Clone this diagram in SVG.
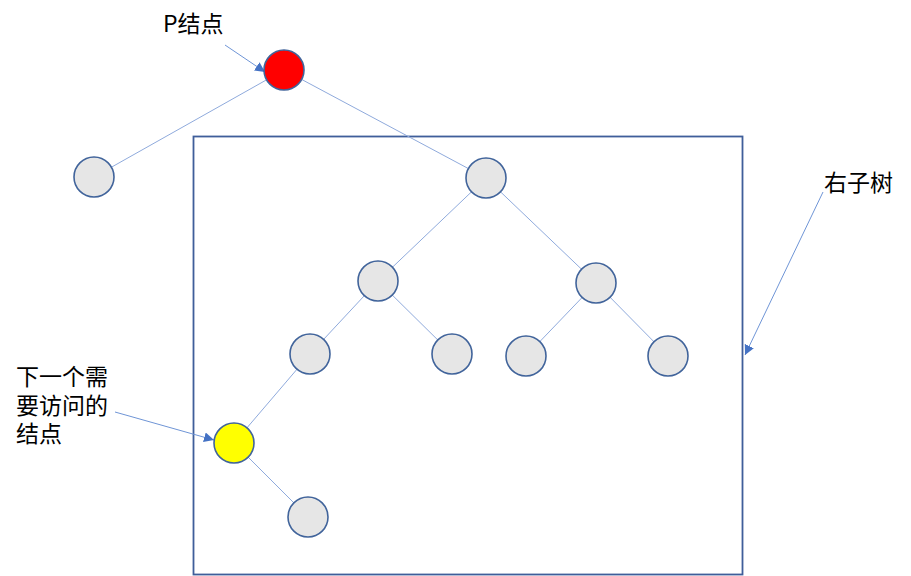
<svg xmlns="http://www.w3.org/2000/svg" width="911" height="576" viewBox="0 0 911 576">
<defs>
<style>
.edge{stroke:#8FAADC;stroke-width:1;fill:none}
.ptr{stroke:#6F95D6;stroke-width:1;fill:none;marker-end:url(#ah)}
.node{stroke:#41649B;stroke-width:1.6}
.gray{fill:#E6E6E6}
.lbl{font-family:"Noto Sans CJK SC","Liberation Sans",sans-serif;font-size:23px;fill:#000}
</style>
<marker id="ah" viewBox="0 0 10 10" refX="10" refY="5" markerWidth="10" markerHeight="10" markerUnits="userSpaceOnUse" orient="auto">
<path d="M0,0 L10,5 L0,10 z" fill="#4472C4"/>
</marker>
</defs>
<rect width="911" height="576" fill="#FFFFFF"/>
<rect id="subtree-box" x="193.5" y="136.5" width="549" height="438" fill="none" stroke="#3F5E9A" stroke-width="1.8"/>
<g id="connectors">
<line class="edge" x1="284" y1="70" x2="94" y2="177"/>
<line class="edge" x1="284" y1="70" x2="486" y2="178"/>
<line class="edge" x1="486" y1="178" x2="378" y2="281"/>
<line class="edge" x1="486" y1="178" x2="596" y2="283"/>
<line class="edge" x1="378" y1="281" x2="310" y2="354"/>
<line class="edge" x1="378" y1="281" x2="452" y2="354"/>
<line class="edge" x1="596" y1="283" x2="526" y2="356"/>
<line class="edge" x1="596" y1="283" x2="668" y2="356"/>
<line class="edge" x1="310" y1="354" x2="234" y2="443"/>
<line class="edge" x1="234" y1="443" x2="308" y2="517"/>
<line class="ptr" x1="225" y1="45" x2="265" y2="72"/>
<line class="ptr" x1="115" y1="412" x2="214" y2="440"/>
<line class="ptr" x1="823" y1="192" x2="745" y2="355"/>
</g>
<g id="node-P"><circle class="node" cx="284" cy="70" r="20" fill="#FF0000"/></g>
<g id="node-A"><circle class="node gray" cx="94" cy="177" r="20"/></g>
<g id="node-B"><circle class="node gray" cx="486" cy="178" r="20"/></g>
<g id="node-C"><circle class="node gray" cx="378" cy="281" r="20"/></g>
<g id="node-D"><circle class="node gray" cx="596" cy="283" r="20"/></g>
<g id="node-E"><circle class="node gray" cx="310" cy="354" r="20"/></g>
<g id="node-F"><circle class="node gray" cx="452" cy="354" r="20"/></g>
<g id="node-G"><circle class="node gray" cx="526" cy="356" r="20"/></g>
<g id="node-H"><circle class="node gray" cx="668" cy="356" r="20"/></g>
<g id="node-next"><circle class="node" cx="234" cy="443" r="20" fill="#FFFF00"/></g>
<g id="node-I"><circle class="node gray" cx="308" cy="517" r="20"/></g>
<g id="label-P"><text class="lbl" x="163" y="32">P结点</text></g>
<g id="label-next"><text class="lbl" x="16" y="385">下一个需<tspan x="16" dy="28.5">要访问的</tspan><tspan x="16" dy="28.5">结点</tspan></text></g>
<g id="label-right"><text class="lbl" x="824" y="191">右子树</text></g>
</svg>
